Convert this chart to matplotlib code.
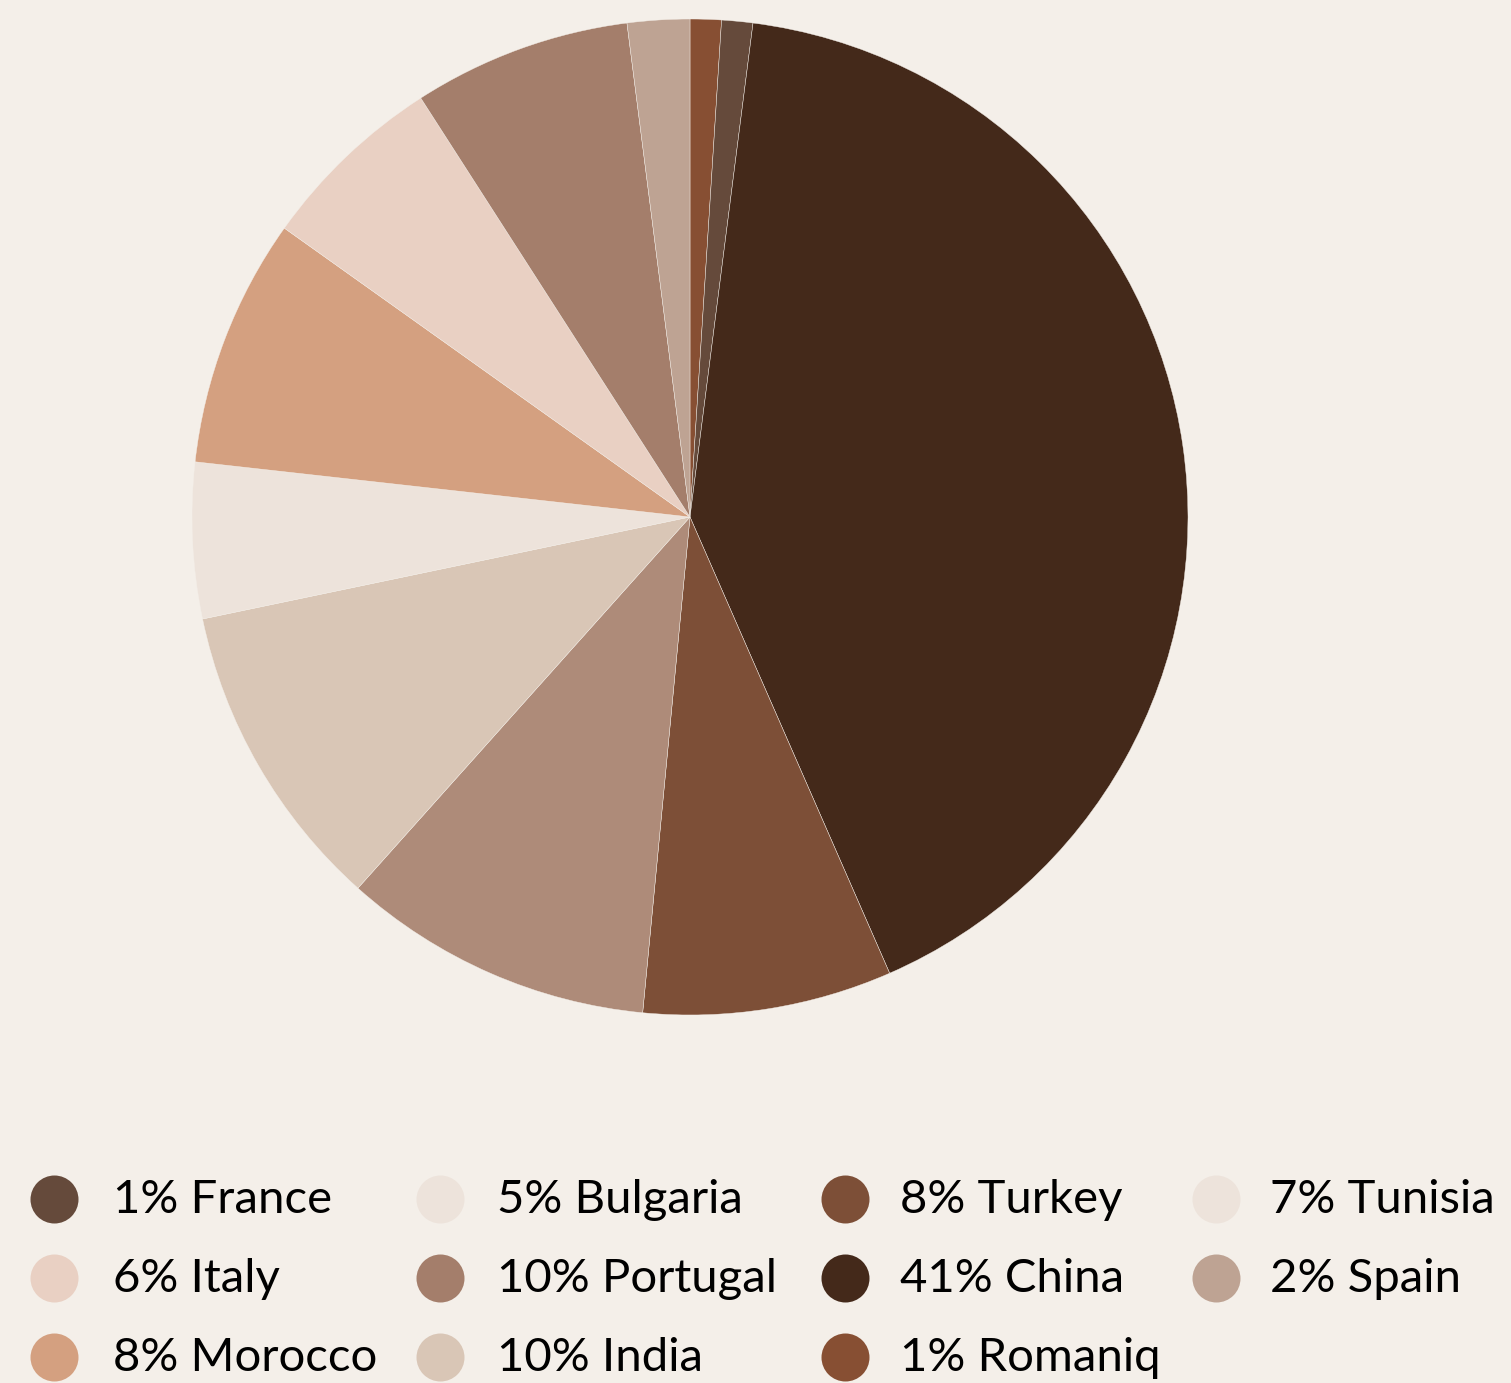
import matplotlib
matplotlib.use("Agg")
import matplotlib.pyplot as plt

# slices as drawn, clockwise from 12 o'clock
pie_countries = ["Romaniq", "France", "China", "Turkey", "Portugal", "India",
                 "Bulgaria", "Morocco", "Italy", "Tunisia", "Spain"]
pie_shares = [1, 1, 41, 8, 10, 10, 5, 8, 6, 7, 2]
pie_colors = ["#874f33", "#654a3b", "#44291a", "#7d4f37", "#ae8b79", "#d9c6b6",
              "#ede3db", "#d4a080", "#e9d0c3", "#a47e6b", "#bea393"]

# legend entries, filled column by column
legend_countries = ["France", "Italy", "Morocco", "Bulgaria", "Portugal", "India",
                    "Turkey", "China", "Romaniq", "Tunisia", "Spain"]
legend_shares = [1, 6, 8, 5, 10, 10, 8, 41, 1, 7, 2]
legend_colors = ["#654a3b", "#e9d0c3", "#d4a080", "#ede3db", "#a47e6b", "#d9c6b6",
                 "#7d4f37", "#44291a", "#874f33", "#ede3db", "#bea393"]

bg = "#f4efe9"
W, H = 1511, 1383
fig = plt.figure(figsize=(W / 100, H / 100), dpi=100, facecolor=bg)

# pie
cx, cy, r = 690, 517, 498
ax = fig.add_axes([(cx - r) / W, (H - cy - r) / H, 2 * r / W, 2 * r / H])
ax.set_facecolor(bg)
ax.pie(pie_shares, colors=pie_colors, startangle=90, counterclock=False,
       wedgeprops=dict(edgecolor=bg, linewidth=0.3))
ax.set_xlim(-1, 1)
ax.set_ylim(-1, 1)
ax.axis("off")

# legend in pixel coordinates
lax = fig.add_axes([0, 0, 1, 1])
lax.set_xlim(0, W)
lax.set_ylim(H, 0)
lax.axis("off")
col_marker_x = [54, 440, 845, 1216]
col_text_x = [113, 497, 900, 1270]
row_y = [1199, 1278, 1357]
for i, (name, share, color) in enumerate(zip(legend_countries, legend_shares, legend_colors)):
    col, row = i // 3, i % 3
    lax.scatter(col_marker_x[col], row_y[row], s=1194, color=color, linewidths=0)
    lax.text(col_text_x[col], row_y[row] + 14, f"{share}% {name}", fontsize=34,
             family="Lato", color="black", va="baseline", ha="left")

fig.savefig("out.png", dpi=100, facecolor=bg)
